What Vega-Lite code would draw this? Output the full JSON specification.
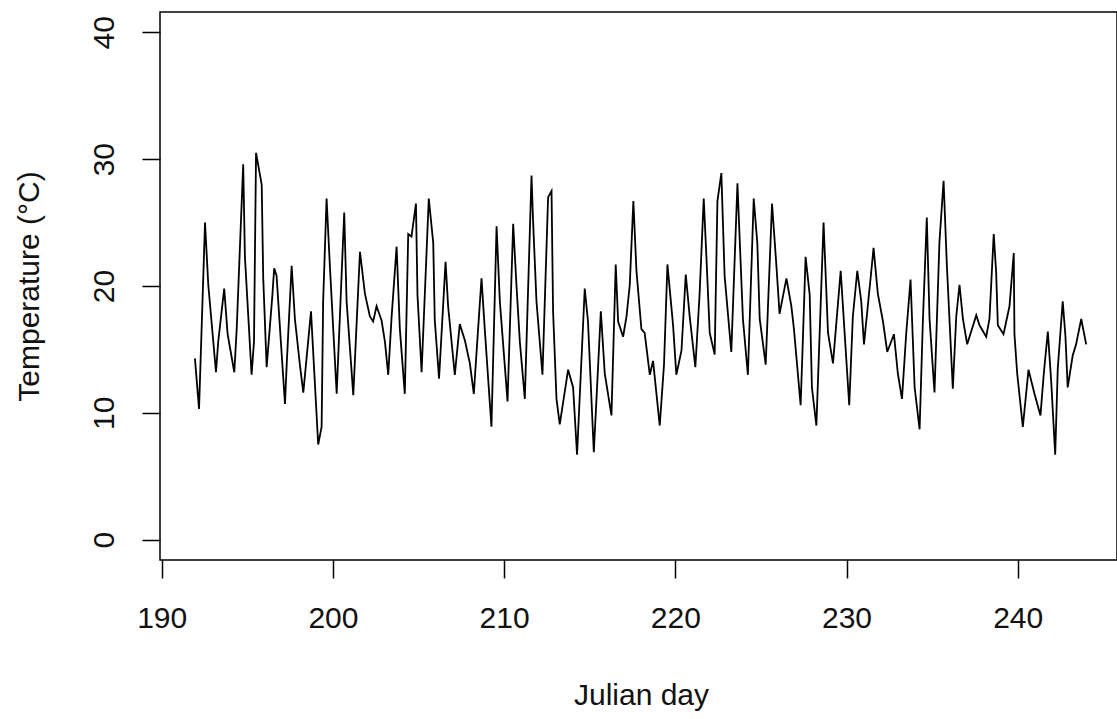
{
  "$schema": "https://vega.github.io/schema/vega-lite/v6.json",
  "autosize": {"type": "none"},
  "padding": {"left": 160, "top": 12, "right": 0, "bottom": 159},
  "width": 957,
  "height": 548,
  "background": "white",
  "config": {
    "view": {"stroke": "black", "strokeWidth": 1.5},
    "axis": {
      "domain": false,
      "grid": false,
      "ticks": true,
      "tickSize": 18,
      "tickColor": "black",
      "tickWidth": 1.5,
      "labelFont": "Liberation Sans",
      "labelFontSize": 30,
      "labelColor": "#111",
      "titleFont": "Liberation Sans",
      "titleFontSize": 30,
      "titleFontWeight": "normal",
      "titleColor": "#111"
    }
  },
  "data": {
    "values": [
      {"day": 191.94, "temp": 14.3},
      {"day": 192.18, "temp": 10.3},
      {"day": 192.53, "temp": 25.0},
      {"day": 192.72, "temp": 20.1},
      {"day": 193.17, "temp": 13.2},
      {"day": 193.3, "temp": 15.6},
      {"day": 193.65, "temp": 19.8},
      {"day": 193.85, "temp": 16.2},
      {"day": 194.24, "temp": 13.2},
      {"day": 194.38, "temp": 16.6},
      {"day": 194.76, "temp": 29.6},
      {"day": 194.86, "temp": 22.3},
      {"day": 195.25, "temp": 13.0},
      {"day": 195.39, "temp": 15.6},
      {"day": 195.51, "temp": 30.5},
      {"day": 195.84, "temp": 28.0},
      {"day": 195.93, "temp": 20.6},
      {"day": 196.13, "temp": 13.6},
      {"day": 196.46, "temp": 19.2},
      {"day": 196.57, "temp": 21.4},
      {"day": 196.71, "temp": 20.8},
      {"day": 196.96, "temp": 15.6},
      {"day": 197.2, "temp": 10.7},
      {"day": 197.3, "temp": 13.8},
      {"day": 197.59, "temp": 21.6},
      {"day": 197.78, "temp": 17.4},
      {"day": 198.07, "temp": 13.8},
      {"day": 198.27, "temp": 11.6},
      {"day": 198.72, "temp": 18.0},
      {"day": 199.14, "temp": 7.5},
      {"day": 199.34, "temp": 8.9},
      {"day": 199.43, "temp": 18.8},
      {"day": 199.63, "temp": 26.9},
      {"day": 199.83, "temp": 21.4},
      {"day": 200.22, "temp": 11.5},
      {"day": 200.66, "temp": 25.8},
      {"day": 200.8, "temp": 18.8},
      {"day": 201.19, "temp": 11.4},
      {"day": 201.58, "temp": 22.7},
      {"day": 201.87, "temp": 19.4},
      {"day": 202.16, "temp": 17.6},
      {"day": 202.35, "temp": 17.2},
      {"day": 202.55, "temp": 18.4},
      {"day": 202.84, "temp": 17.3},
      {"day": 203.04, "temp": 15.6},
      {"day": 203.23, "temp": 13.0},
      {"day": 203.43, "temp": 17.6},
      {"day": 203.72, "temp": 23.1},
      {"day": 203.91, "temp": 16.6},
      {"day": 204.2, "temp": 11.5},
      {"day": 204.4, "temp": 24.1},
      {"day": 204.59, "temp": 23.9},
      {"day": 204.85, "temp": 26.5},
      {"day": 204.94, "temp": 19.3},
      {"day": 205.18, "temp": 13.2},
      {"day": 205.6, "temp": 26.9},
      {"day": 205.86, "temp": 23.4},
      {"day": 205.95, "temp": 17.3},
      {"day": 206.2, "temp": 12.7},
      {"day": 206.58, "temp": 21.9},
      {"day": 206.73, "temp": 18.4},
      {"day": 207.12, "temp": 13.0},
      {"day": 207.41, "temp": 17.0},
      {"day": 207.71, "temp": 15.7},
      {"day": 208.0, "temp": 13.9},
      {"day": 208.23, "temp": 11.5},
      {"day": 208.48, "temp": 16.6},
      {"day": 208.68, "temp": 20.6},
      {"day": 208.87, "temp": 16.6},
      {"day": 209.26, "temp": 8.9},
      {"day": 209.56, "temp": 24.7},
      {"day": 209.75, "temp": 18.8},
      {"day": 210.2, "temp": 10.9},
      {"day": 210.53, "temp": 24.9},
      {"day": 210.72, "temp": 20.1},
      {"day": 210.92, "temp": 15.6},
      {"day": 211.21, "temp": 11.1},
      {"day": 211.6, "temp": 28.7},
      {"day": 211.69, "temp": 25.2},
      {"day": 211.89, "temp": 18.8},
      {"day": 212.24, "temp": 13.0},
      {"day": 212.57, "temp": 27.0},
      {"day": 212.77, "temp": 27.5},
      {"day": 212.86, "temp": 18.0},
      {"day": 213.06, "temp": 11.1},
      {"day": 213.25, "temp": 9.1},
      {"day": 213.74, "temp": 13.4},
      {"day": 214.03, "temp": 12.0},
      {"day": 214.26, "temp": 6.7},
      {"day": 214.71, "temp": 19.8},
      {"day": 214.9, "temp": 17.2},
      {"day": 215.24, "temp": 6.9},
      {"day": 215.65, "temp": 18.0},
      {"day": 215.88, "temp": 13.1},
      {"day": 216.27, "temp": 9.8},
      {"day": 216.52, "temp": 21.7},
      {"day": 216.66, "temp": 17.2},
      {"day": 216.95, "temp": 16.0},
      {"day": 217.15, "temp": 17.6},
      {"day": 217.34, "temp": 20.1},
      {"day": 217.55, "temp": 26.7},
      {"day": 217.73, "temp": 21.2},
      {"day": 218.02, "temp": 16.6},
      {"day": 218.21, "temp": 16.3},
      {"day": 218.51, "temp": 13.0},
      {"day": 218.7, "temp": 14.1},
      {"day": 219.09, "temp": 9.0},
      {"day": 219.34, "temp": 13.8},
      {"day": 219.54, "temp": 21.7},
      {"day": 219.87, "temp": 16.9},
      {"day": 220.06, "temp": 13.0},
      {"day": 220.36, "temp": 14.9},
      {"day": 220.61, "temp": 20.9},
      {"day": 220.84, "temp": 17.6},
      {"day": 221.17, "temp": 13.6},
      {"day": 221.42, "temp": 19.4},
      {"day": 221.66, "temp": 26.9},
      {"day": 221.82, "temp": 22.2},
      {"day": 222.01, "temp": 16.3},
      {"day": 222.3, "temp": 14.6},
      {"day": 222.46, "temp": 26.7},
      {"day": 222.69, "temp": 28.9},
      {"day": 222.88, "temp": 20.8},
      {"day": 223.27, "temp": 14.8},
      {"day": 223.63, "temp": 28.1},
      {"day": 223.76, "temp": 23.7},
      {"day": 223.95, "temp": 17.4},
      {"day": 224.24, "temp": 13.0},
      {"day": 224.58, "temp": 26.9},
      {"day": 224.79, "temp": 23.4},
      {"day": 224.93, "temp": 17.4},
      {"day": 225.28, "temp": 13.8},
      {"day": 225.65, "temp": 26.5},
      {"day": 225.9, "temp": 21.7},
      {"day": 226.09, "temp": 17.8},
      {"day": 226.49, "temp": 20.6},
      {"day": 226.78, "temp": 18.4},
      {"day": 226.93, "temp": 16.6},
      {"day": 227.32, "temp": 10.6},
      {"day": 227.45, "temp": 15.7},
      {"day": 227.61, "temp": 22.3},
      {"day": 227.85, "temp": 19.3},
      {"day": 227.98, "temp": 12.0},
      {"day": 228.24, "temp": 9.0},
      {"day": 228.66, "temp": 25.0},
      {"day": 228.92, "temp": 16.3},
      {"day": 229.21, "temp": 13.9},
      {"day": 229.66, "temp": 21.2},
      {"day": 229.89, "temp": 16.3},
      {"day": 230.16, "temp": 10.6},
      {"day": 230.37, "temp": 17.6},
      {"day": 230.63, "temp": 21.2},
      {"day": 230.86, "temp": 18.8},
      {"day": 231.02, "temp": 15.4},
      {"day": 231.45, "temp": 21.2},
      {"day": 231.58, "temp": 23.0},
      {"day": 231.83, "temp": 19.4},
      {"day": 232.13, "temp": 17.2},
      {"day": 232.38, "temp": 14.8},
      {"day": 232.77, "temp": 16.2},
      {"day": 233.0, "temp": 13.1},
      {"day": 233.24, "temp": 11.1},
      {"day": 233.49, "temp": 16.3},
      {"day": 233.74, "temp": 20.5},
      {"day": 233.98, "temp": 12.0},
      {"day": 234.27, "temp": 8.7},
      {"day": 234.46, "temp": 17.2},
      {"day": 234.69, "temp": 25.4},
      {"day": 234.85, "temp": 17.4},
      {"day": 235.14, "temp": 11.6},
      {"day": 235.43, "temp": 23.5},
      {"day": 235.67, "temp": 28.3},
      {"day": 235.86, "temp": 21.7},
      {"day": 236.21, "temp": 11.9},
      {"day": 236.41, "temp": 17.6},
      {"day": 236.6, "temp": 20.1},
      {"day": 236.8, "temp": 17.4},
      {"day": 237.05, "temp": 15.4},
      {"day": 237.58, "temp": 17.7},
      {"day": 237.77, "temp": 16.9},
      {"day": 238.16, "temp": 16.0},
      {"day": 238.35, "temp": 17.4},
      {"day": 238.6, "temp": 24.1},
      {"day": 238.74, "temp": 21.1},
      {"day": 238.84, "temp": 16.9},
      {"day": 239.17, "temp": 16.2},
      {"day": 239.52, "temp": 18.4},
      {"day": 239.77, "temp": 22.6},
      {"day": 239.81, "temp": 16.2},
      {"day": 239.97, "temp": 13.1},
      {"day": 240.3, "temp": 8.9},
      {"day": 240.63, "temp": 13.4},
      {"day": 240.98, "temp": 11.5},
      {"day": 241.33, "temp": 9.8},
      {"day": 241.53, "temp": 13.2},
      {"day": 241.76, "temp": 16.4},
      {"day": 241.96, "temp": 12.4},
      {"day": 242.19, "temp": 6.7},
      {"day": 242.34, "temp": 13.5},
      {"day": 242.63, "temp": 18.8},
      {"day": 242.79, "temp": 16.0},
      {"day": 242.92, "temp": 12.0},
      {"day": 243.21, "temp": 14.5},
      {"day": 243.41, "temp": 15.4},
      {"day": 243.71, "temp": 17.4},
      {"day": 244.0, "temp": 15.4}
    ]
  },
  "mark": {"type": "line", "color": "black", "strokeWidth": 1.8, "strokeJoin": "miter"},
  "encoding": {
    "x": {
      "field": "day",
      "type": "quantitative",
      "scale": {"domain": [189.9, 245.8], "nice": false, "zero": false},
      "axis": {
        "values": [190, 200, 210, 220, 230, 240],
        "labelPadding": 25,
        "title": "Julian day",
        "titleBaseline": "alphabetic",
        "titleY": 144,
        "titleX": 481
      }
    },
    "y": {
      "field": "temp",
      "type": "quantitative",
      "scale": {"domain": [-1.6, 41.6], "nice": false, "zero": false},
      "axis": {
        "values": [0, 10, 20, 30, 40],
        "labelAngle": -90,
        "labelAlign": "center",
        "labelBaseline": "bottom",
        "labelPadding": 23,
        "title": "Temperature (°C)",
        "titleAngle": -90,
        "titleAlign": "center",
        "titleBaseline": "alphabetic",
        "titleX": -122,
        "titleY": 274
      }
    }
  }
}
